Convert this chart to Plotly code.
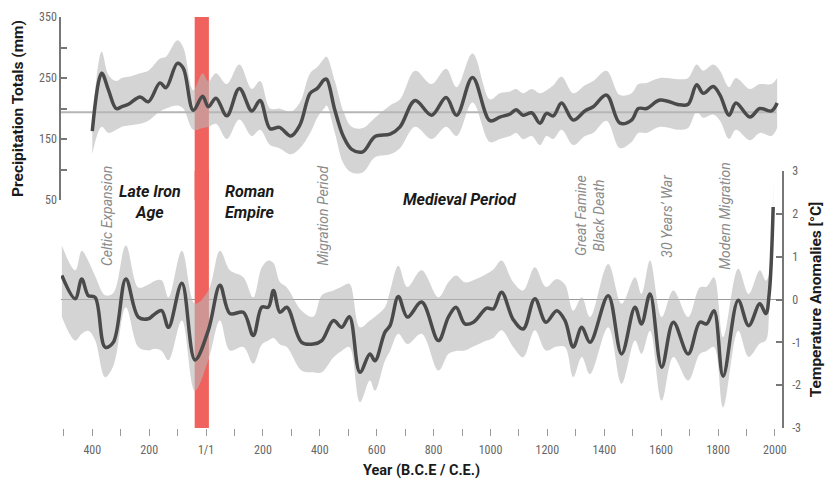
import plotly.graph_objects as go

# ---------------- data ----------------
precip_years = [-400, -367, -343, -316, -296, -273, -232, -203, -162, -141, -101, -80, -45, -12, 8, 35, 73,
                117, 161, 190, 225, 258, 298, 330, 366, 391, 415, 424, 453, 483, 512, 551, 594, 647, 682,
                735, 793, 844, 881, 937, 998, 1033, 1069, 1090, 1115, 1145, 1174, 1197, 1221, 1250, 1291,
                1332, 1361, 1408, 1455, 1496, 1520, 1549, 1596, 1666, 1695, 1725, 1748, 1783, 1807, 1839,
                1863, 1912, 1947, 1988, 2008]
precip_mm = [163, 258, 230, 200, 203, 207, 219, 211, 242, 234, 274, 266, 197, 220, 203, 217, 188,
             233, 196, 213, 167, 169, 155, 173, 225, 233, 247, 248, 197, 154, 133, 129, 154, 158, 170,
             213, 189, 218, 189, 251, 180, 186, 191, 198, 189, 193, 176, 192, 188, 209, 181,
             196, 203, 222, 176, 181, 200, 200, 214, 206, 207, 239, 225, 236, 222, 189,
             209, 186, 200, 196, 209]
precip_upper = [175, 293, 255, 245, 250, 252, 258, 262, 282, 285, 312, 300, 230, 258, 245, 258, 240,
                272, 232, 245, 200, 200, 195, 210, 258, 268, 282, 285, 245, 195, 170, 168, 185, 205, 215,
                262, 240, 265, 235, 290, 215, 225, 228, 232, 225, 232, 225, 230, 238, 252, 225,
                238, 245, 262, 222, 225, 240, 242, 250, 248, 250, 272, 262, 272, 262, 235,
                250, 232, 240, 240, 250]
precip_lower = [125, 170, 160, 165, 170, 172, 175, 180, 195, 200, 205, 200, 165, 168, 170, 175, 150,
                182, 155, 165, 140, 135, 125, 135, 160, 185, 200, 205, 160, 110, 95, 95, 120, 125, 135,
                170, 150, 170, 155, 210, 145, 150, 155, 160, 150, 155, 140, 155, 150, 165, 140,
                155, 160, 180, 135, 145, 160, 160, 170, 165, 168, 195, 185, 190, 180, 150,
                165, 148, 160, 155, 168]
PRECIP_MEAN = 194

temp_years = [-507, -460, -437, -414, -390, -355, -326, -282, -238, -203, -179, -156, -132, -85, -39, 8,
              49, 84, 131, 166, 196, 219, 237, 260, 284, 336, 377, 407, 448, 477, 504, 541, 576, 594,
              629, 647, 676, 708, 758, 817, 852, 879, 910, 940, 987, 1010, 1039, 1080, 1115, 1156,
              1195, 1233, 1262, 1291, 1321, 1350, 1414, 1461, 1508, 1531, 1561, 1602, 1643, 1695,
              1736, 1760, 1786, 1818, 1871, 1908, 1947, 1968, 1980, 1994]
temp_anom = [0.56, 0.02, 0.48, 0.09, 0.05, -1.11, -1.00, 0.48, -0.41, -0.45, -0.33, -0.26, -0.65, 0.38, -1.41, -0.72,
             0.33, -0.33, -0.30, -0.84, -0.18, -0.18, 0.21, -0.30, -0.18, -1.00, -1.04, -0.96, -0.49, -0.65, -0.40,
             -1.70, -1.27, -1.43, -0.76, -0.61, 0.07, -0.41, -0.06, -0.96, -0.41, -0.18, -0.57, -0.53, -0.20,
             -0.22, 0.17, -0.47, -0.69, 0.02, -0.53, -0.26, -0.49, -1.11, -0.65, -1.00, 0.09, -1.27, -0.18,
             -0.57, 0.13, -1.58, -0.53, -1.27, -0.53, -0.57, -0.26, -1.79, -0.02, -0.61, -0.10, -0.33, 0.13, 2.16]
temp_upper = [1.26, 0.68, 1.14, 0.90, 0.55, 0.10, 0.15, 1.26, 0.28, 0.35, 0.44, 0.45, 0.05, 1.14, -0.10, 0.21,
              1.14, 0.68, 0.52, 0.05, 0.75, 0.91, 0.85, 0.40, 0.28, -0.26, -0.40, 0.10, 0.21, 0.30, 0.37,
              -0.65, -0.49, -0.40, -0.18, 0.20, 0.79, 0.29, 0.68, 0.05, 0.40, 0.56, 0.40, 0.45, 0.60,
              0.70, 0.91, 0.40, 0.21, 0.75, 0.29, 0.48, 0.35, -0.26, 0.05, -0.41, 0.83, -0.10, 0.52,
              0.13, 0.91, -0.41, 0.21, -0.41, 0.28, 0.30, 0.52, -0.88, 0.72, 0.13, 0.68, 0.44, 0.60, 2.90]
temp_lower = [-0.41, -0.96, -0.80, -0.73, -0.95, -1.81, -1.55, -0.18, -1.11, -1.19, -1.15, -1.20, -1.42, -0.49, -2.13, -1.42,
              -0.49, -1.19, -1.11, -1.50, -1.05, -0.96, -0.90, -1.05, -1.11, -1.66, -1.70, -1.70, -1.35, -1.20, -1.11,
              -2.40, -1.89, -2.13, -1.43, -1.20, -0.80, -1.04, -0.80, -1.66, -1.27, -1.20, -1.19, -1.10, -0.96,
              -0.90, -0.72, -1.11, -1.35, -0.72, -1.19, -1.10, -1.11, -1.81, -1.34, -1.74, -0.65, -1.97, -0.96,
              -1.27, -0.73, -2.36, -1.34, -1.89, -1.27, -1.20, -1.11, -2.52, -0.73, -1.34, -1.03, -0.96, -0.26, 1.50]
TEMP_REF = 0

EVENT_START, EVENT_END = -40, 10

x_tickvals = list(range(-500, 2001, 100))
x_ticktext = {-400: "400", -200: "200", 0: "1/1", 200: "200", 400: "400", 600: "600", 800: "800",
              1000: "1000", 1200: "1200", 1400: "1400", 1600: "1600", 1800: "1800", 2000: "2000"}
precip_tickvals = [50, 100, 150, 200, 250, 300, 350]
precip_ticktext = ["50", "", "150", "", "250", "", "350"]
temp_tickvals = [-3, -2, -1, 0, 1, 2, 3]
temp_ticktext = ["-3", "-2", "-1", "0", "1", "2", "3"]

FONT = "Roboto, Arial, sans-serif"
TICK_FONT = "Liberation Sans Narrow, Roboto Condensed, Roboto, Arial, sans-serif"
BAND = "rgba(183,183,183,0.6)"
LINE = "#4a4a4a"

fig = go.Figure()

# precipitation band + line
fig.add_trace(go.Scatter(x=precip_years, y=precip_upper, mode="lines", line=dict(width=0, shape="spline"),
                         xaxis="x", yaxis="y", hoverinfo="skip"))
fig.add_trace(go.Scatter(x=precip_years, y=precip_lower, mode="lines", line=dict(width=0, shape="spline"),
                         fill="tonexty", fillcolor=BAND, xaxis="x", yaxis="y", hoverinfo="skip"))
fig.add_trace(go.Scatter(x=precip_years, y=precip_mm, mode="lines",
                         line=dict(color=LINE, width=3.5, shape="spline", smoothing=1.0),
                         xaxis="x", yaxis="y"))

# temperature band + line
fig.add_trace(go.Scatter(x=temp_years, y=temp_upper, mode="lines", line=dict(width=0, shape="spline"),
                         xaxis="x", yaxis="y2", hoverinfo="skip"))
fig.add_trace(go.Scatter(x=temp_years, y=temp_lower, mode="lines", line=dict(width=0, shape="spline"),
                         fill="tonexty", fillcolor=BAND, xaxis="x", yaxis="y2", hoverinfo="skip"))
fig.add_trace(go.Scatter(x=temp_years, y=temp_anom, mode="lines",
                         line=dict(color=LINE, width=3.5, shape="spline", smoothing=1.0),
                         xaxis="x", yaxis="y2"))

# reference lines
fig.add_shape(type="line", xref="paper", x0=0, x1=0.992, yref="y", y0=PRECIP_MEAN, y1=PRECIP_MEAN,
              line=dict(color="#b5b5b5", width=2), layer="below")
fig.add_shape(type="line", xref="paper", x0=0, x1=1, yref="y2", y0=TEMP_REF, y1=TEMP_REF,
              line=dict(color="#9a9a9a", width=1.2), layer="below")
# event bar (one piece per panel so it spans the whole height)
for yr_ref in ["y domain", "y2 domain"]:
    fig.add_shape(type="rect", xref="x", x0=EVENT_START, x1=EVENT_END, yref=yr_ref, y0=0, y1=1,
                  fillcolor="#f0625d", line=dict(width=0), layer="below")

# period labels
bold_font = dict(family=FONT, size=16, color="#1a1a1a", weight="bold", style="italic")
fig.add_annotation(x=-197, y=0.549, xref="x", yref="paper", text="Late Iron<br>Age", showarrow=False,
                   font=bold_font, align="center")
fig.add_annotation(x=60, y=0.549, xref="x", yref="paper", text="Roman<br>Empire", showarrow=False,
                   font=bold_font, align="left", xanchor="left")
fig.add_annotation(x=893, y=0.555, xref="x", yref="paper", text="Medieval Period", showarrow=False,
                   font=bold_font)

event_font = dict(family=FONT, size=14, color="#8a8a8a", style="italic")
for label, yr in [("Celtic Expansion", -348), ("Migration Period", 411), ("Great Famine<br>Black Death", 1350),
                  ("30 Years’ War", 1620), ("Modern Migration", 1824)]:
    fig.add_annotation(x=yr, y=0.516, xref="x", yref="paper", text=label, showarrow=False,
                       textangle=-90, font=event_font, align="center")

y_title_font = dict(family=FONT, size=15.5, color="#1a1a1a", weight="bold")
x_title_font = dict(family=FONT, size=14.5, color="#1a1a1a", weight="bold")
tick_font = dict(family=TICK_FONT, size=12, color="#666666")

fig.update_layout(
    width=827, height=479,
    margin=dict(l=61, r=45, t=17, b=51),
    paper_bgcolor="white", plot_bgcolor="rgba(0,0,0,0)",
    showlegend=False,
    font=dict(family=FONT),
    xaxis=dict(domain=[0, 1], range=[-510, 2025], anchor="y2", automargin=False,
               tickvals=x_tickvals, ticktext=[x_ticktext.get(v, "") for v in x_tickvals],
               ticks="outside", ticklen=7, tickwidth=1, tickcolor="#9a9a9a", ticklabelstandoff=4,
               showline=False, showgrid=False, zeroline=False, tickfont=tick_font,
               title=dict(text="Year (B.C.E / C.E.)", font=x_title_font, standoff=8)),
    yaxis=dict(domain=[0.5547, 1], range=[50, 350], anchor="x", side="left", automargin=False,
               tickvals=precip_tickvals, ticktext=precip_ticktext,
               ticks="inside", ticklen=6, tickwidth=1.5, tickcolor="#777777",
               showline=True, linecolor="#777777", linewidth=1.5,
               showgrid=False, zeroline=False, tickfont=tick_font,
               title=dict(text="Precipitation Totals (mm)", font=y_title_font, standoff=12)),
    yaxis2=dict(domain=[0, 0.6253], range=[-3, 3], anchor="x", side="right", automargin=False,
                tickvals=temp_tickvals, ticktext=temp_ticktext, ticklabelstandoff=6,
                ticks="inside", ticklen=6, tickwidth=1.5, tickcolor="#777777",
                showline=True, linecolor="#777777", linewidth=1.5,
                showgrid=False, zeroline=False, tickfont=tick_font,
                title=dict(text="Temperature Anomalies [°C]", font=y_title_font, standoff=10)),
)

fig.write_html("out.html", config={"displayModeBar": False},
               post_script="document.body.style.margin='0px';")
